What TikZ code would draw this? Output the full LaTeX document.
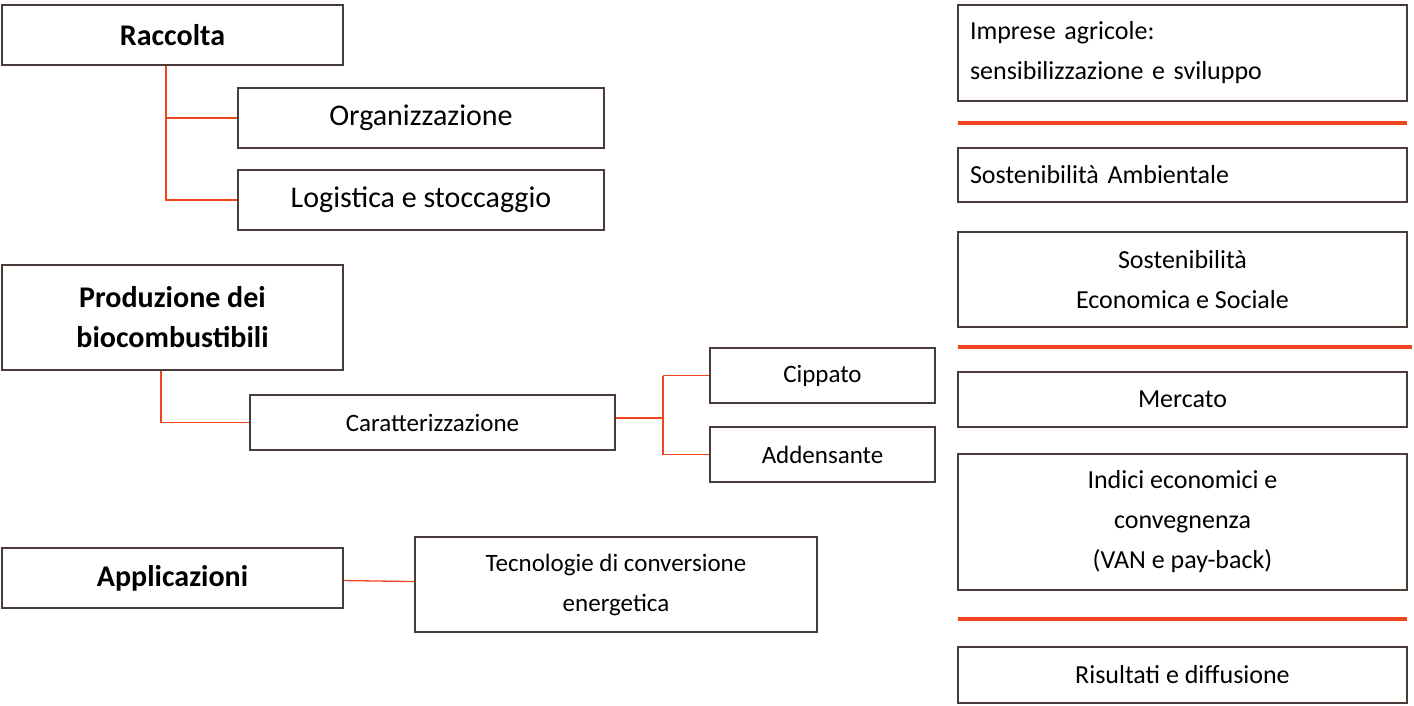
\documentclass[tikz,border=0pt]{standalone}
\usepackage{fontspec}
\setmainfont{Carlito}
\usetikzlibrary{positioning}
\definecolor{boxbrown}{HTML}{4A3C38}
\definecolor{linered}{HTML}{F0461E}
\tikzstyle{box} = [rectangle, draw=boxbrown, line width=2pt, fill=white, inner sep=0pt, align=center]
\tikzstyle{mainbox} = [box, minimum width=341pt, font=\fontsize{30}{34}\selectfont\bfseries]
\tikzstyle{subbox} = [box, font=\fontsize{30}{34}\selectfont]
\tikzstyle{smallbox} = [box, font=\fontsize{25}{40}\selectfont]
\tikzstyle{sidebox} = [box, minimum width=449pt, font=\fontsize{26}{40}\selectfont]
\tikzstyle{link} = [linered, line width=1.3pt]
\tikzstyle{sep} = [linered, line width=4.5pt]

\begin{document}
\begin{tikzpicture}[x=1pt, y=-1pt]
        \useasboundingbox (0,0) rectangle (1414,705);
        % left column
        \node (racc) [mainbox, minimum height=60pt] at (172.5,35) {Raccolta};
        \node (org) [subbox, minimum width=366pt, minimum height=60pt] at (421,118) {Organizzazione};
        \node (log) [subbox, minimum width=366pt, minimum height=60pt] at (421,200) {Logistica e stoccaggio};
        \node (prod) [mainbox, minimum height=105pt, font=\fontsize{30}{40}\selectfont\bfseries] at (172.5,317.5) {Produzione dei\\biocombustibili};
        \node (car) [smallbox, minimum width=365pt, minimum height=55pt] at (432.5,422.5) {Caratterizzazione};
        \node (cip) [smallbox, minimum width=225pt, minimum height=55pt] at (822.5,375.5) {Cippato};
        \node (add) [smallbox, minimum width=225pt, minimum height=55pt] at (822.5,454.5) {Addensante};
        \node (app) [mainbox, minimum height=60pt] at (172.5,578) {Applicazioni};
        \node (tec) [smallbox, minimum width=402pt, minimum height=95pt] at (616,584.5) {Tecnologie di conversione\\energetica};

        \coordinate (p1) at (166,118);
        \coordinate (p2) at (166,200);
        \coordinate (p3) at (161,422.5);
        \coordinate (p4) at (663,418);
        \coordinate (p5) at (663,375.5);
        \coordinate (p6) at (663,454.5);

        \draw [link] (racc.south -| p1) -- (p2) -- (log.west);
        \draw [link] (p1) -- (org.west);
        \draw [link] (prod.south -| p3) -- (p3) -- (car.west);
        \draw [link] (car.east |- p4) -- (p4);
        \draw [link] (p5) -- (cip.west);
        \draw [link] (p5) -- (p6) -- (add.west);
        \draw [link] (app) -- (tec);

        % right column
        \node (imp) [sidebox, minimum height=96pt, align=left, text width=425pt] at (1182.5,53) {Imprese agricole:\\sensibilizzazione e sviluppo};
        \node (amb) [sidebox, minimum height=54pt, align=left, text width=425pt] at (1182.5,175) {Sostenibilità Ambientale};
        \node (eco) [sidebox, minimum height=95pt] at (1182.5,279.5) {Sostenibilità\\Economica e Sociale};
        \node (mer) [sidebox, minimum height=55pt] at (1182.5,399.5) {Mercato};
        \node (ind) [sidebox, minimum height=136pt] at (1182.5,522) {Indici economici e\\convegnenza\\(VAN e pay-back)};
        \node (ris) [sidebox, minimum height=56pt] at (1182.5,675) {Risultati e diffusione};

        \draw [sep] (958,123) -- (1407,123);
        \draw [sep] (958,347) -- (1412,347);
        \draw [sep] (958,619) -- (1407,619);
    \end{tikzpicture}
\end{document}
